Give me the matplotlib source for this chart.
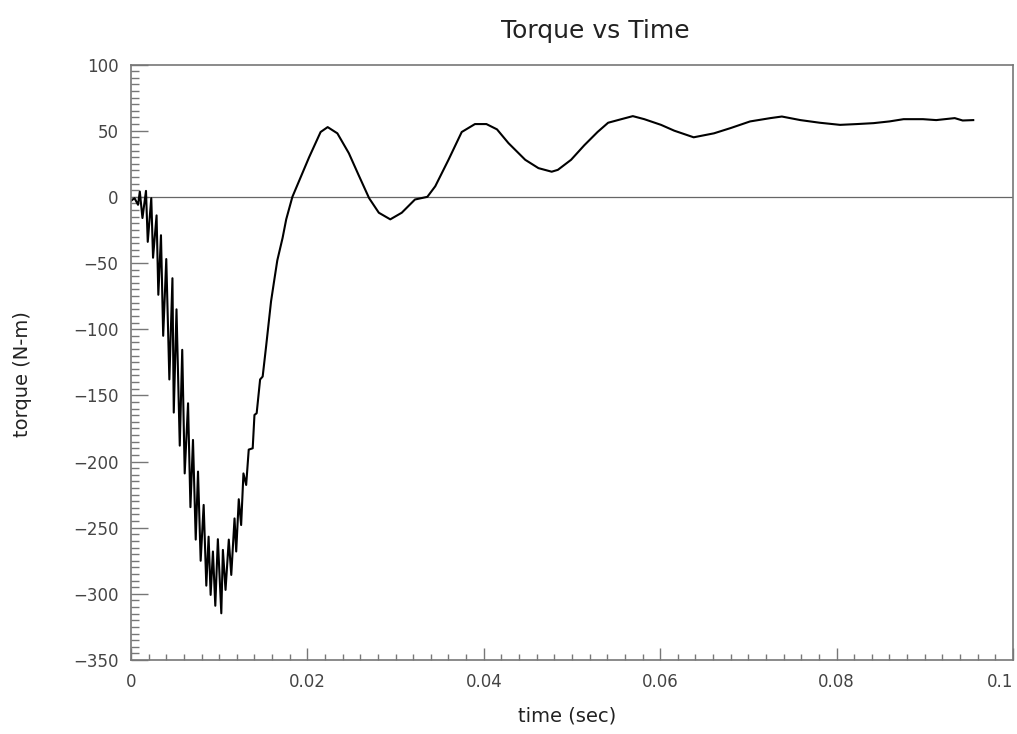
import numpy as np
import matplotlib
matplotlib.use("Agg")
import matplotlib.pyplot as plt
from matplotlib.ticker import MultipleLocator

plt.rcParams['font.family'] = ['Liberation Sans Narrow', 'DejaVu Sans']

# time (sec) and torque (N-m)
time_s = [
    0.0000, 0.0004, 0.0008, 0.0010, 0.0013, 0.0017, 0.0019, 0.0023, 0.0025, 0.0029,
    0.0031, 0.0034, 0.00365, 0.0040, 0.00435, 0.0047, 0.00485, 0.00516, 0.00553, 0.00581,
    0.00609, 0.00647, 0.00674, 0.00703, 0.00734, 0.0076, 0.0079, 0.00824, 0.00854, 0.0088,
    0.00903, 0.00929, 0.00956, 0.00985, 0.01024, 0.01042, 0.01072, 0.01109, 0.01137, 0.01174,
    0.01193, 0.01222, 0.01249, 0.01275, 0.01306, 0.01335, 0.0138, 0.0140, 0.01425, 0.01464,
    0.01493, 0.01532, 0.01588, 0.01625, 0.01659, 0.01719, 0.0176, 0.0183, 0.0202, 0.0215,
    0.0223, 0.0234, 0.0247, 0.0258, 0.0270, 0.0281, 0.0294, 0.0307, 0.0322, 0.0336,
    0.0345, 0.0360, 0.0375, 0.0390, 0.0403, 0.0415, 0.0428, 0.0447, 0.0462, 0.0477,
    0.0484, 0.0499, 0.0514, 0.0529, 0.0541, 0.0556, 0.0569, 0.0582, 0.0601, 0.0616,
    0.0638, 0.0661, 0.0680, 0.0702, 0.0725, 0.0738, 0.0759, 0.0781, 0.0804, 0.0823,
    0.0842, 0.0860, 0.0876, 0.0898, 0.0913, 0.0934, 0.0943, 0.0955,
]
torque = [
    -3, -1, -6, 4, -16, 4.5, -34, -1, -46, -14,
    -74, -29, -105, -47, -138, -61.5, -163, -85, -188, -115.6,
    -209, -156, -234.5, -183.7, -259, -207.6, -275, -232.8, -293.8, -256.8,
    -300.8, -268, -309, -258.7, -314.7, -266.8, -297, -259, -285.7, -243,
    -268, -228.5, -248, -209, -217.7, -191, -190, -164.8, -163.5, -138,
    -135.8, -113, -79, -62.7, -48, -31, -17, 0, 30, 49,
    52.7, 48, 33, 16.6, -1, -12, -17, -12, -2, 0,
    8, 28, 49, 55, 55, 51, 40.6, 28, 21.7, 19,
    20.4, 28, 39, 49, 56, 58.7, 61, 58.7, 54.4, 50,
    45, 48, 52, 57, 59.5, 60.7, 58, 56, 54.4, 55,
    55.7, 57, 58.7, 58.7, 58, 59.5, 57.7, 58,
]
x_ticks = [0, 0.02, 0.04, 0.06, 0.08, 0.1]
x_tick_labels = ['0', '0.02', '0.04', '0.06', '0.08', '0.1']

fig = plt.figure(figsize=(10.17, 7.34), dpi=100)
ax = fig.add_axes([0.1288, 0.1008, 0.8672, 0.8113])

ax.axhline(0, color='#666666', lw=0.9)
ax.plot(time_s, torque, color='black', lw=1.5)

ax.set_xlim(0, 0.1)
ax.set_ylim(-350, 100)
ax.set_xticks(x_ticks)
ax.set_xticklabels(x_tick_labels)
ax.get_xticklabels()[-1].set_ha('right')
ax.xaxis.set_minor_locator(MultipleLocator(0.002))
ax.yaxis.set_major_locator(MultipleLocator(50))
ax.yaxis.set_minor_locator(MultipleLocator(5))

ax.tick_params(axis='y', which='major', direction='in', length=12, width=1, color='#777777',
               labelsize=12, labelcolor='#444444', pad=9)
ax.tick_params(axis='y', which='minor', direction='in', length=6, width=1, color='#777777')
ax.tick_params(axis='x', which='major', direction='in', length=9, width=1, color='#777777',
               labelsize=12, labelcolor='#444444', pad=9)
ax.tick_params(axis='x', which='minor', direction='in', length=4.5, width=1, color='#777777')

for s in ax.spines.values():
    s.set_color('#777777')
    s.set_linewidth(1.2)

fig.text(0.585, 0.958, 'Torque vs Time', ha='center', va='center', fontsize=18, color='#222222')
fig.text(0.558, 0.024, 'time (sec)', ha='center', va='center', fontsize=14, color='#222222')
fig.text(0.022, 0.49, 'torque (N-m)', ha='center', va='center', rotation=90, fontsize=14,
         color='#222222')

fig.savefig('out.png', dpi=100)
